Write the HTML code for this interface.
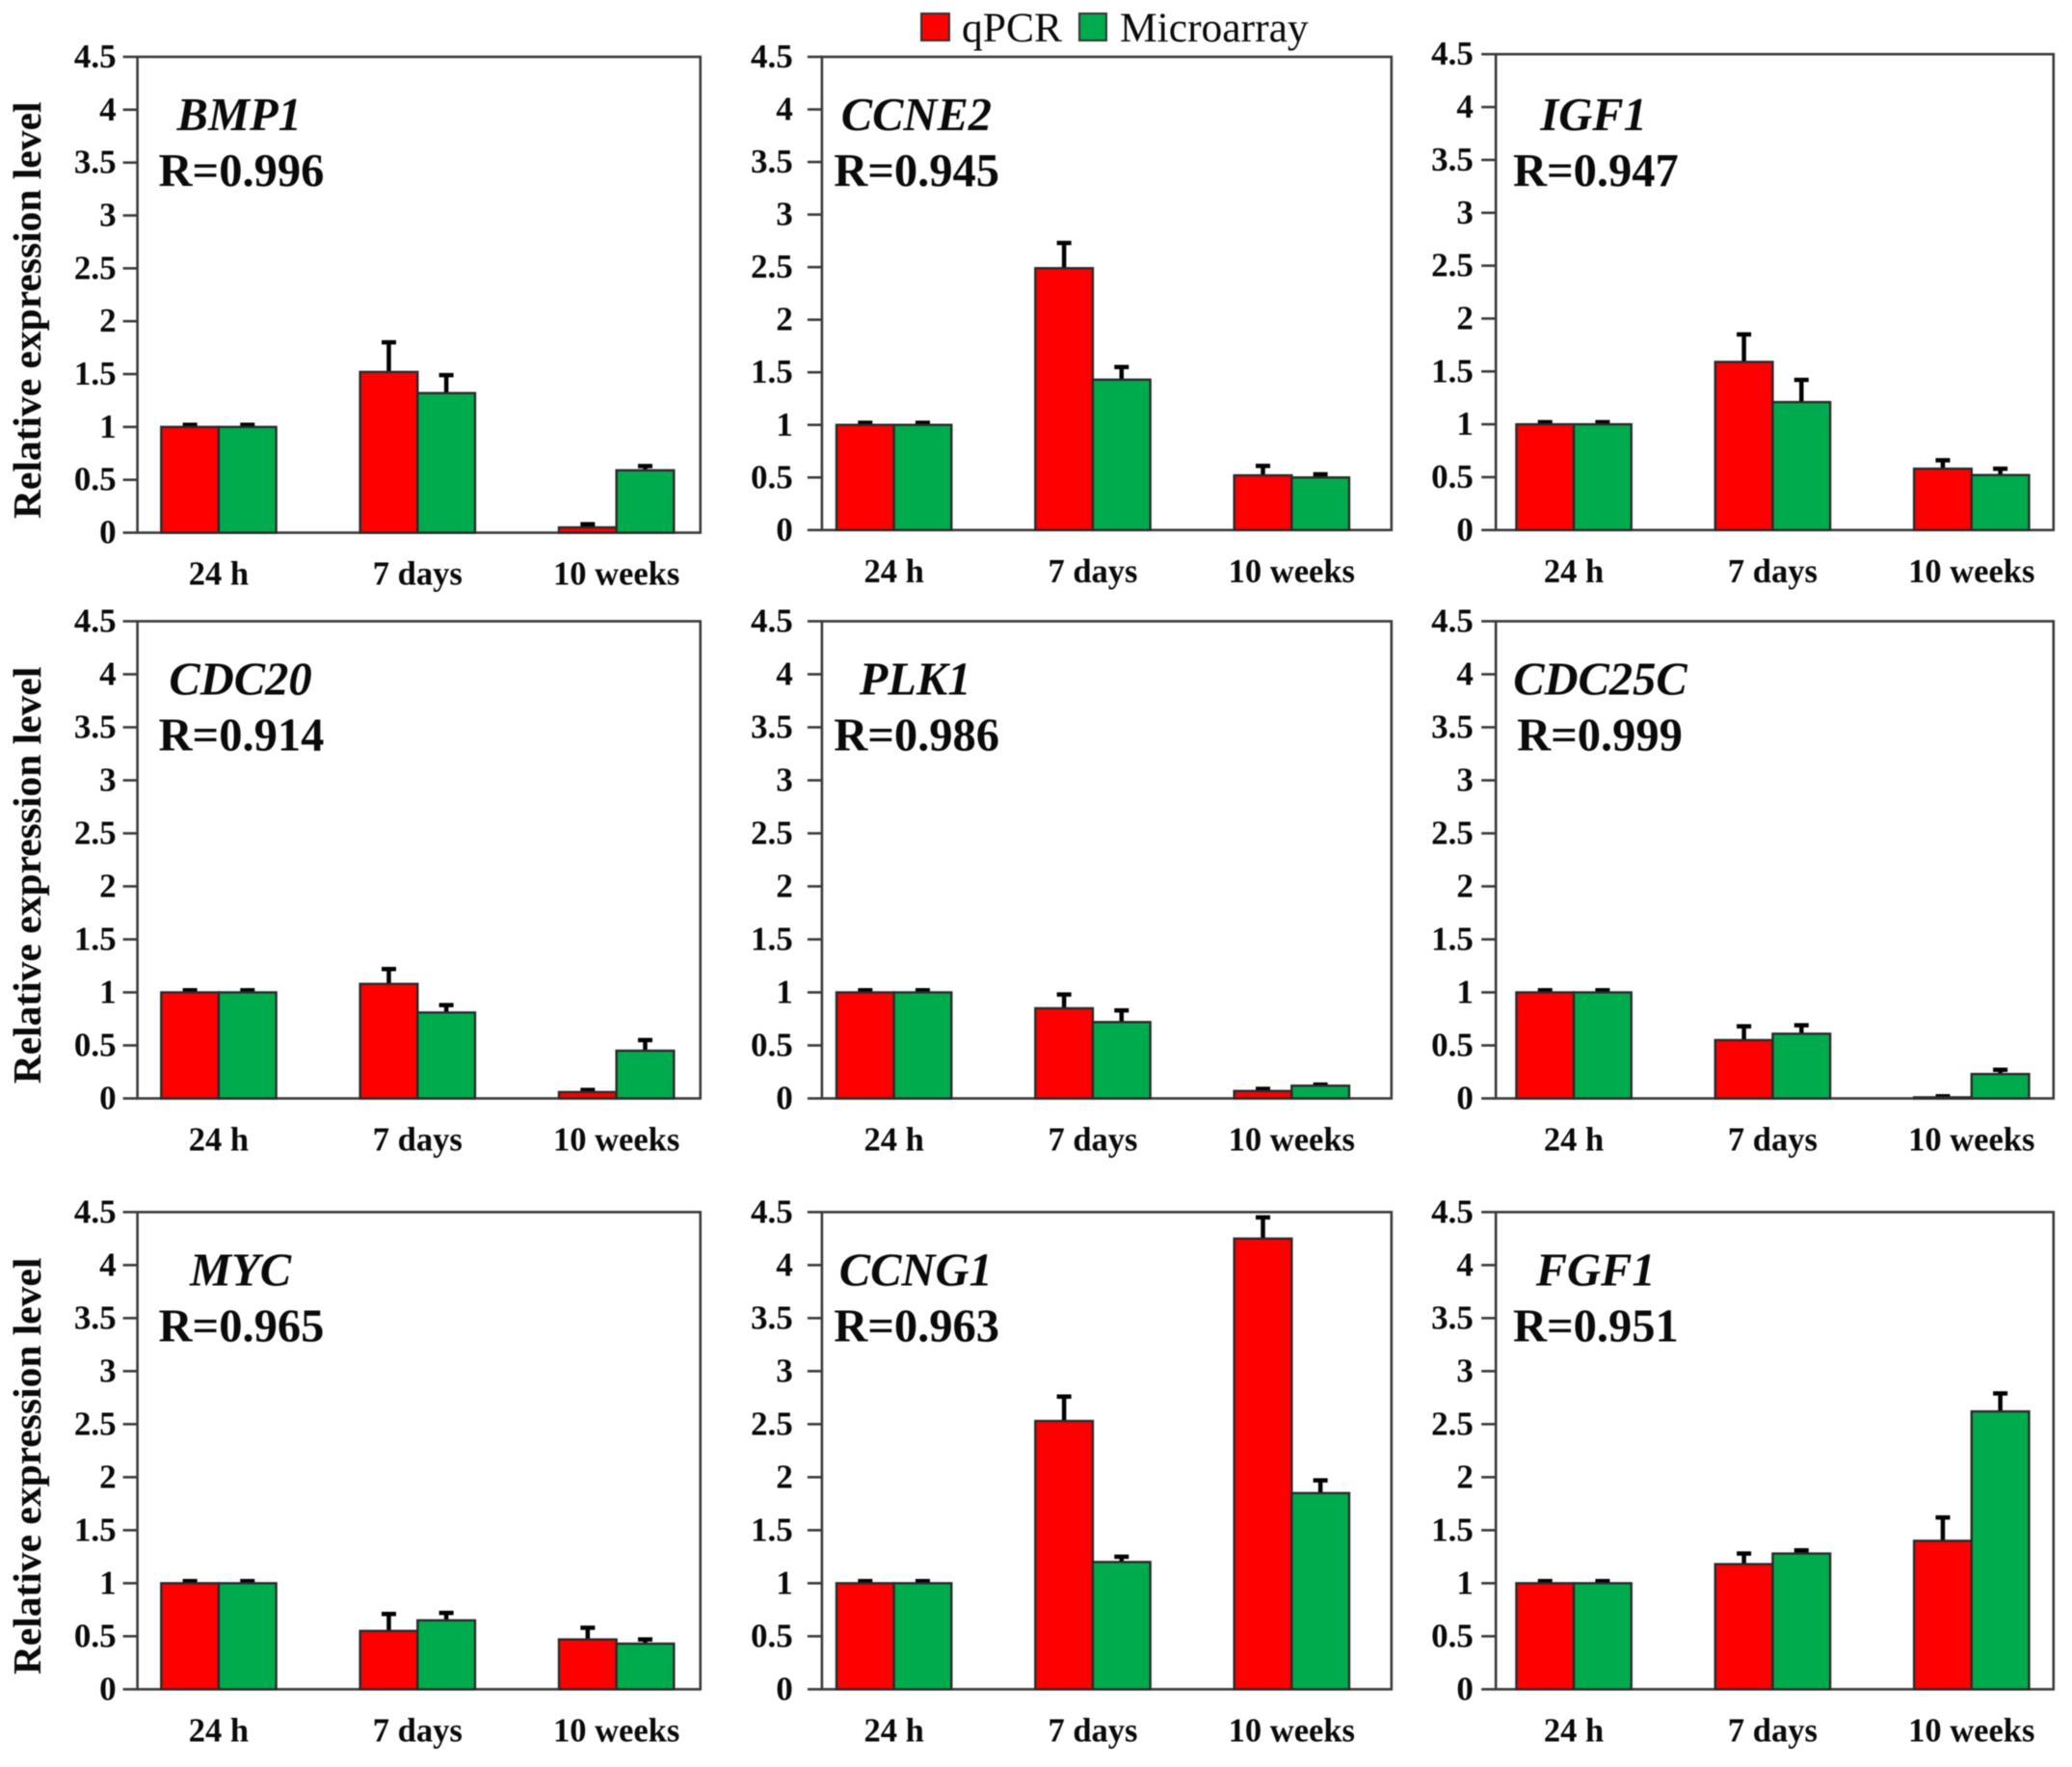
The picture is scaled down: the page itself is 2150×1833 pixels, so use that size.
<!DOCTYPE html>
<html lang="en">
<head>
<meta charset="utf-8">
<title>Relative expression: qPCR vs Microarray</title>
<style>
html,body{margin:0;padding:0;background:#fff;width:2150px;height:1833px;overflow:hidden}
svg{display:block;filter:blur(.6px)}
text{font-family:"Liberation Serif",serif;fill:#0a0a0a}
</style>
</head>
<body>
<svg id="chart" xmlns="http://www.w3.org/2000/svg" width="2150" height="1833" viewBox="0 0 2150 1833">
  <g>
    <rect x="956" y="14" width="29" height="28" fill="#fe0000" stroke="#333" stroke-width="2"/>
    <text x="998" y="43" font-size="43.5">qPCR</text>
    <rect x="1120" y="14" width="28" height="28" fill="#00ab4e" stroke="#333" stroke-width="2"/>
    <text x="1162" y="43" font-size="43.5">Microarray</text>
  </g>
</svg>
<script>
const categories = ['24 h', '7 days', '10 weeks'];
const tickLabels = ['0', '0.5', '1', '1.5', '2', '2.5', '3', '3.5', '4', '4.5'];
const tickValues = [0, 0.5, 1, 1.5, 2, 2.5, 3, 3.5, 4, 4.5];
const genes = ['BMP1', 'CCNE2', 'IGF1', 'CDC20', 'PLK1', 'CDC25C', 'MYC', 'CCNG1', 'FGF1'];
const rValues = ['R=0.996', 'R=0.945', 'R=0.947', 'R=0.914', 'R=0.986', 'R=0.999', 'R=0.965', 'R=0.963', 'R=0.951'];
const qpcr = [
  [1, 1.52, 0.05], [1, 2.49, 0.52], [1, 1.59, 0.58],
  [1, 1.08, 0.06], [1, 0.85, 0.07], [1, 0.55, 0.01],
  [1, 0.55, 0.47], [1, 2.53, 4.25], [1, 1.18, 1.40]
];
const microarray = [
  [1, 1.32, 0.59], [1, 1.43, 0.50], [1, 1.21, 0.52],
  [1, 0.81, 0.45], [1, 0.72, 0.12], [1, 0.61, 0.23],
  [1, 0.65, 0.43], [1, 1.20, 1.85], [1, 1.28, 2.62]
];
const qpcrErrorTop = [
  [1.02, 1.80, 0.08], [1.02, 2.73, 0.61], [1.02, 1.85, 0.66],
  [1.02, 1.22, 0.08], [1.02, 0.98, 0.09], [1.02, 0.68, 0.02],
  [1.02, 0.71, 0.58], [1.02, 2.76, 4.45], [1.02, 1.28, 1.62]
];
const microarrayErrorTop = [
  [1.02, 1.49, 0.63], [1.02, 1.55, 0.53], [1.02, 1.42, 0.58],
  [1.02, 0.88, 0.55], [1.02, 0.83, 0.13], [1.02, 0.69, 0.27],
  [1.02, 0.72, 0.47], [1.02, 1.25, 1.97], [1.02, 1.31, 2.79]
];

const S = 2150 / 1568;
const columnFrames = [
  {left: 104, right: 530, group0: 165.5, step: 150.5, tickRight: 88},
  {left: 622, right: 1053, group0: 676.5, step: 150.5, tickRight: 600},
  {left: 1132, right: 1554, group0: 1191, step: 150.5, tickRight: 1115}
];
const rowFrames = [
  [{top: 43, bottom: 403}, {top: 43, bottom: 401}, {top: 41, bottom: 401}],
  [{top: 470, bottom: 831}, {top: 470, bottom: 831}, {top: 470, bottom: 831}],
  [{top: 917, bottom: 1278}, {top: 917, bottom: 1278}, {top: 917, bottom: 1278}]
];
const rowTextTop = [43, 470, 917];
const panelGeneAnchor = [181, 693.5, 1206, 182, 692.5, 1211, 182, 693, 1207.5];
const panelRAnchor = [120, 631, 1145, 120, 631, 1148, 120, 631, 1145];
const NS = 'http://www.w3.org/2000/svg';
const svg = document.getElementById('chart');
const BAR_W = 43.5 * S;
const EDGE = '#2a2a2a';

function make(parent, tag, attrs, txt) {
  const el = document.createElementNS(NS, tag);
  for (const k in attrs) el.setAttribute(k, attrs[k]);
  if (txt !== undefined) el.textContent = txt;
  parent.appendChild(el);
  return el;
}

genes.forEach(function (gene, p) {
  const col = columnFrames[p % 3];
  const rowIndex = Math.floor(p / 3);
  const frame = rowFrames[rowIndex][p % 3];
  const left = col.left * S, right = col.right * S, top = frame.top * S, bottom = frame.bottom * S;
  const textTop = rowTextTop[rowIndex] * S;
  const yScale = function (v) { return bottom - (v / 4.5) * (bottom - top); };
  const xScale = function (i) { return (col.group0 + i * col.step) * S; };

  const g = make(svg, 'g', {});
  
  

  const box = make(g, 'rect', {x: left, y: top, width: right - left, height: bottom - top, fill: 'none', stroke: '#3a3a3a', 'stroke-width': 2.6});
  
  

  tickValues.forEach(function (v, t) {
    const y = yScale(v);
    const tick = make(g, 'line', {x1: left - 15, x2: left, y1: y, y2: y, stroke: '#3a3a3a', 'stroke-width': 2.6});
    
    
    const label = make(g, 'text', {x: col.tickRight * S, y: y + 11, 'font-size': 35, 'font-weight': 'bold', 'text-anchor': 'end'}, tickLabels[t]);
    
    
  });

  categories.forEach(function (cat, i) {
    const cx = xScale(i);
    const series = [
      {name: 'qpcr', v: qpcr[p][i], e: qpcrErrorTop[p][i], x: cx - BAR_W, fill: '#fe0000'},
      {name: 'microarray', v: microarray[p][i], e: microarrayErrorTop[p][i], x: cx, fill: '#00ab4e'}
    ];
    series.forEach(function (s) {
      const mid = s.x + BAR_W / 2;
      const stem = make(g, 'line', {x1: mid, x2: mid, y1: yScale(s.v), y2: yScale(s.e), stroke: '#000', 'stroke-width': 4.5});
      
      
      const cap = make(g, 'line', {x1: mid - 7.5, x2: mid + 7.5, y1: yScale(s.e), y2: yScale(s.e), stroke: '#000', 'stroke-width': 4.5});
      
      
      const bar = make(g, 'rect', {x: s.x, y: yScale(s.v), width: BAR_W, height: bottom - yScale(s.v), fill: s.fill, stroke: EDGE, 'stroke-width': 2.4});
      
      
    });
    const catLabel = make(g, 'text', {x: cx, y: bottom + 54, 'font-size': 34.5, 'font-weight': 'bold', 'text-anchor': 'middle'}, cat);
    
    
  });

  const geneLabel = make(g, 'text', {x: panelGeneAnchor[p] * S, y: textTop + 76, 'font-size': 48.5, 'font-weight': 'bold', 'font-style': 'italic', 'text-anchor': 'middle'}, gene);
  
  

  const rLabel = make(g, 'text', {x: panelRAnchor[p] * S, y: textTop + 134, 'font-size': 48.5, 'font-weight': 'bold'}, rValues[p]);
  
  

  if (p % 3 === 0) {
    const cy = (top + bottom) / 2 + 16;
    const title = make(g, 'text', {x: 0, y: 0, transform: 'translate(42 ' + cy + ') rotate(-90)', 'font-size': 41.5, 'font-weight': 'bold', 'text-anchor': 'middle'}, 'Relative expression level');
    
    
  }
});
</script>
</body>
</html>
